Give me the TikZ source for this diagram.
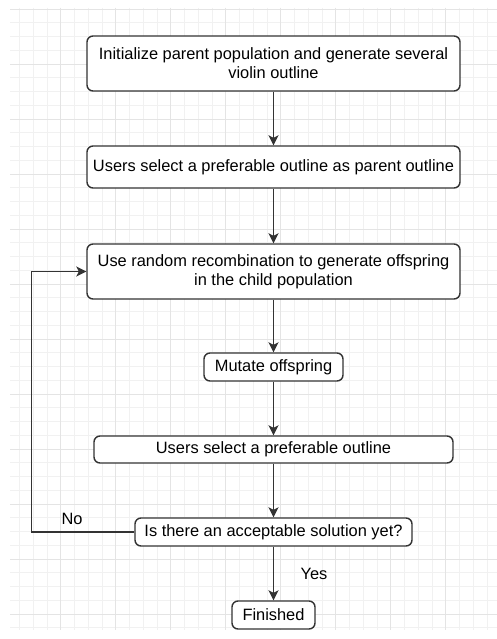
\documentclass[tikz,border=0pt]{standalone}
\usepackage{fontspec}
\setmainfont{Liberation Sans}
\usetikzlibrary{arrows.meta}
\definecolor{edgegray}{HTML}{333333}
\definecolor{gridminor}{HTML}{F1F1F1}
\definecolor{gridmajor}{HTML}{E4E4E4}
\begin{document}
\begin{tikzpicture}[
    x=1pt, y=-1pt,
    line width=1.4pt,
    stepbox/.style={
        rectangle,
        rounded corners=6pt,
        draw=edgegray,
        fill=white,
        inner sep=0pt,
        align=center,
        font={\fontsize{16.4}{19}\selectfont},
    },
    flow/.style={
        draw=edgegray,
        -{Stealth[length=10pt,width=10pt,inset=2.5pt]},
    },
    lbl/.style={font={\fontsize{16.4}{19}\selectfont}},
]

    \useasboundingbox[fill=white] (0,0) rectangle (497,639);

    % background grid
    \begin{scope}
        \clip (10,8) rectangle (497,630);
        \foreach \k in {0,...,36}
            \draw[gridminor, line width=0.7pt] ({5.7+13.75*\k},8) -- ({5.7+13.75*\k},630);
        \foreach \k in {0,...,45}
            \draw[gridminor, line width=0.7pt] (10,{9+13.75*\k}) -- (497,{9+13.75*\k});
        \foreach \k in {0,...,9}
            \draw[gridmajor, line width=0.7pt] ({5.7+55*\k},8) -- ({5.7+55*\k},630);
        \foreach \k in {0,...,11}
            \draw[gridmajor, line width=0.7pt] (10,{9+55*\k}) -- (497,{9+55*\k});
    \end{scope}

    \node[stepbox, minimum width=373pt, minimum height=55pt] (init) at (273.5,63.5)
        {Initialize parent population and generate several\\violin outline};
    \node[stepbox, minimum width=373pt, minimum height=42pt] (pick) at (273.5,167)
        {Users select a preferable outline as parent outline};
    \node[stepbox, minimum width=373pt, minimum height=55pt] (recomb) at (273.5,271.5)
        {Use random recombination to generate offspring\\in the child population};
    \node[stepbox, minimum width=139pt, minimum height=28pt] (mutate) at (273.5,367)
        {Mutate offspring};
    \node[stepbox, minimum width=359pt, minimum height=27pt] (select) at (273.5,449.5)
        {Users select a preferable outline};
    \node[stepbox, minimum width=277pt, minimum height=28pt] (check) at (273.5,532)
        {Is there an acceptable solution yet?};
    \node[stepbox, minimum width=83pt, minimum height=28pt] (done) at (273.5,615)
        {Finished};

    \node[lbl] (no)  at (72,519) {No};
    \node[lbl] (yes) at (314,574) {Yes};

    \draw[flow] (init) -- (pick);
    \draw[flow] (pick) -- (recomb);
    \draw[flow] (recomb) -- (mutate);
    \draw[flow] (mutate) -- (select);
    \draw[flow] (select) -- (check);
    \draw[flow] (check) -- (done);
    \draw[flow] (check.west) -- ++(-103,0) |- (recomb.west);

\end{tikzpicture}
\end{document}
